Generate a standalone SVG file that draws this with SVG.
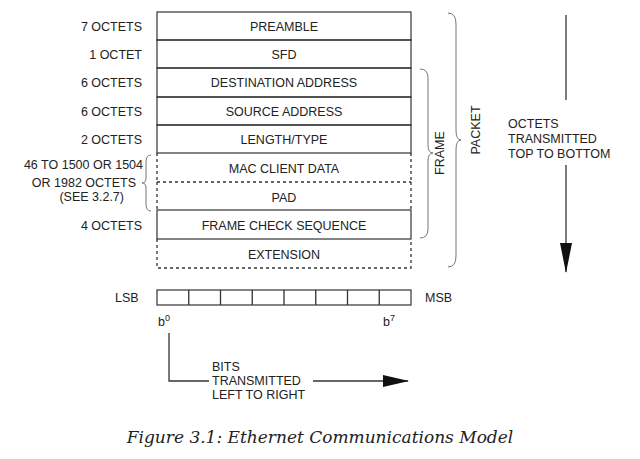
<svg xmlns="http://www.w3.org/2000/svg" width="640" height="459" viewBox="0 0 640 459">
<style>
text{font-family:"Liberation Sans",Arial,sans-serif;font-size:12.5px;fill:#222}
.c{text-anchor:middle}.r{text-anchor:end}
.box{fill:none;stroke:#333;stroke-width:1.2}
.d{stroke-dasharray:3,3}
.ln{fill:none;stroke:#333;stroke-width:1.3}
.br{fill:none;stroke:#777;stroke-width:1}
</style>
<defs>
<marker id="av" markerWidth="12" markerHeight="30" refX="6" refY="29" orient="0" markerUnits="userSpaceOnUse"><path d="M0,0H12L6,30z" fill="#111"/></marker>
<marker id="ah" markerWidth="26" markerHeight="12" refX="25" refY="6" orient="0" markerUnits="userSpaceOnUse"><path d="M0,0L26,6L0,12z" fill="#111"/></marker>
</defs>
<rect width="640" height="459" fill="#fff"/>
<g id="fields">
<g id="preamble"><rect class="box" x="157" y="12" width="254" height="28"/><text class="c" x="284" y="31">PREAMBLE</text><text class="r" x="142" y="31">7 OCTETS</text></g>
<g id="sfd"><rect class="box" x="157" y="40" width="254" height="28"/><text class="c" x="284" y="59">SFD</text><text class="r" x="142" y="59">1 OCTET</text></g>
<g id="da"><rect class="box" x="157" y="68" width="254" height="29"/><text class="c" x="284" y="87">DESTINATION ADDRESS</text><text class="r" x="142" y="87">6 OCTETS</text></g>
<g id="sa"><rect class="box" x="157" y="97" width="254" height="28"/><text class="c" x="284" y="116">SOURCE ADDRESS</text><text class="r" x="142" y="116">6 OCTETS</text></g>
<g id="lt"><rect class="box" x="157" y="125" width="254" height="28"/><text class="c" x="284" y="144">LENGTH/TYPE</text><text class="r" x="142" y="144">2 OCTETS</text></g>
<g id="mac"><path class="ln d" d="M157,153V182M411,153V182M157,182H411"/><text class="c" x="284" y="173">MAC CLIENT DATA</text></g>
<g id="pad"><path class="ln d" d="M157,182V210M411,182V210"/><text class="c" x="284" y="202">PAD</text></g>
<g id="datalabel"><text class="r" x="143" y="169">46 TO 1500 OR 1504</text><text class="r" x="136" y="187">OR 1982 OCTETS</text><text class="r" x="124" y="201">(SEE 3.2.7)</text><path class="br" d="M151,155Q146,155 146,162V178Q146,183 142,183Q146,183 146,188V204Q146,211 151,211"/></g>
<g id="fcs"><rect class="box" x="157" y="210" width="254" height="29"/><text class="c" x="284" y="230">FRAME CHECK SEQUENCE</text><text class="r" x="142" y="230">4 OCTETS</text></g>
<g id="ext"><path class="ln d" d="M157,239V268H411V239"/><text class="c" x="284" y="259">EXTENSION</text></g>
</g>
<g id="frame"><path class="br" d="M420,69Q428,69 428,78V145Q428,153 433,153Q428,153 428,161V229Q428,238 420,238"/><text class="c" transform="translate(444,153) rotate(-90)">FRAME</text></g>
<g id="packet"><path class="br" d="M448,13Q456,13 456,24V130Q456,140 461,140Q456,140 456,150V256Q456,267 448,267"/><text class="c" transform="translate(480,130) rotate(-90)">PACKET</text></g>
<g id="octets"><text x="508" y="128">OCTETS</text><text x="508" y="143">TRANSMITTED</text><text x="508" y="158">TOP TO BOTTOM</text></g>
<g id="bits">
<rect class="box" x="157" y="290" width="254" height="15"/>
<path class="ln" d="M188.75,290V305M220.5,290V305M252.25,290V305M284,290V305M315.75,290V305M347.5,290V305M379.25,290V305"/>
<text x="115" y="302">LSB</text><text x="425" y="302">MSB</text>
<text x="158" y="326">b<tspan font-size="9" dy="-5">0</tspan></text>
<text x="383" y="326">b<tspan font-size="9" dy="-5">7</tspan></text>
<text x="212" y="371">BITS</text><text x="212" y="385">TRANSMITTED</text><text x="212" y="399">LEFT TO RIGHT</text>
</g>
<g id="connectors">
<path class="ln" d="M566,15V100"/>
<path class="ln" d="M566,165V272" stroke-width="1.6" marker-end="url(#av)"/>
<path class="ln" d="M169,333V381H209"/>
<path class="ln" d="M313,381H408" marker-end="url(#ah)"/>
</g>
<text class="c" x="320" y="443" style="font-family:'DejaVu Serif',serif;font-style:italic;font-size:17px">Figure 3.1: Ethernet Communications Model</text>
</svg>
